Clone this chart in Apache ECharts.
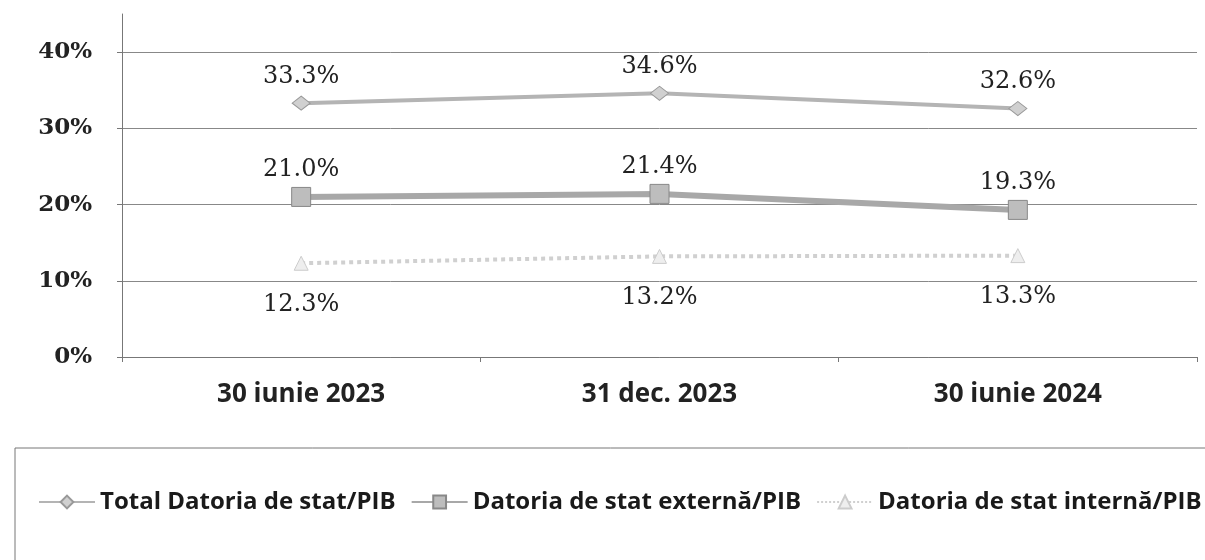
<!DOCTYPE html>
<html>
<head>
<meta charset="utf-8">
<script src="https://cdn.jsdelivr.net/npm/echarts@6/dist/echarts.min.js"></script>
<style>
    html, body { margin: 0; padding: 0; background: #fff; }
    #chart { width: 1205px; height: 560px; }
</style>
</head>
<body>
<div id="chart"></div>
<script>
var categories = ['30 iunie 2023', '31 dec. 2023', '30 iunie 2024']
var totalDebt = [33.3, 34.6, 32.6]
var externalDebt = [21.0, 21.4, 19.3]
var internalDebt = [12.3, 13.2, 13.3]
var seriesNames = ['Total Datoria de stat/PIB', 'Datoria de stat externă/PIB', 'Datoria de stat internă/PIB']

window.onload = function () {
    var chart = echarts.init(document.getElementById('chart'))
    var labelFont = 'DejaVu Serif'
    var axisFont = 'Open Sans'

    function pct(p) {
        return p.value.toFixed(1) + '%'
    }

    var option = {
        animation: false,
        graphic: [{
            type: 'rect',
            shape: { x: 15, y: 448, width: 1200, height: 130 },
            style: { fill: 'none', stroke: '#777', lineWidth: 1 }
        }],
        grid: { left: 122, right: 8, top: 14, height: 343 },
        legend: {
            top: 485,
            left: 33,
            width: 1260,
            itemGap: 15,
            itemWidth: 56,
            itemHeight: 16,
            textStyle: { fontFamily: axisFont, fontSize: 24, fontWeight: 'bold', color: '#1a1a1a' },
            data: seriesNames
        },
        xAxis: {
            type: 'category',
            data: categories,
            boundaryGap: true,
            axisLine: { lineStyle: { color: '#777', width: 1 } },
            axisTick: { show: true, length: 5, lineStyle: { color: '#777' } },
            axisLabel: { fontFamily: axisFont, fontSize: 26, fontWeight: 'bold', color: '#222', margin: 25 }
        },
        yAxis: {
            type: 'value',
            min: 0,
            max: 45,
            interval: 10,
            axisLine: { show: true, lineStyle: { color: '#777' } },
            axisTick: { show: true, length: 5, lineStyle: { color: '#777' } },
            splitLine: { show: true, showMaxLine: false, lineStyle: { color: '#888', width: 1 } },
            axisLabel: {
                fontFamily: labelFont, fontSize: 23, fontWeight: 'bold', color: '#222', margin: 30,
                showMaxLabel: false,
                formatter: function (v) { return v % 10 === 0 ? v + '%' : '' }
            }
        },
        series: [{
            name: seriesNames[0],
            type: 'line',
            data: totalDebt,
            symbol: 'diamond',
            symbolSize: [18, 14],
            lineStyle: { color: '#b4b4b4', width: 4 },
            itemStyle: { color: '#d0d0d0', borderColor: '#999', borderWidth: 1 },
            label: { show: true, position: 'top', distance: 7, formatter: pct, fontFamily: labelFont, fontSize: 24, color: '#222' }
        }, {
            name: seriesNames[1],
            type: 'line',
            data: externalDebt,
            symbol: 'rect',
            symbolSize: 19,
            lineStyle: { color: '#a8a8a8', width: 6 },
            itemStyle: { color: '#bdbdbd', borderColor: '#888', borderWidth: 1 },
            label: { show: true, position: 'top', distance: 5, formatter: pct, fontFamily: labelFont, fontSize: 24, color: '#222' }
        }, {
            name: seriesNames[2],
            type: 'line',
            data: internalDebt,
            symbol: 'triangle',
            symbolSize: 14,
            lineStyle: { color: '#d0d0d0', width: 4, type: 'dotted' },
            itemStyle: { color: '#eee', borderColor: '#ccc', borderWidth: 1 },
            label: { show: true, position: 'bottom', distance: 22, formatter: pct, fontFamily: labelFont, fontSize: 24, color: '#222' }
        }]
    }
    chart.setOption(option)
}
</script>
</body>
</html>
